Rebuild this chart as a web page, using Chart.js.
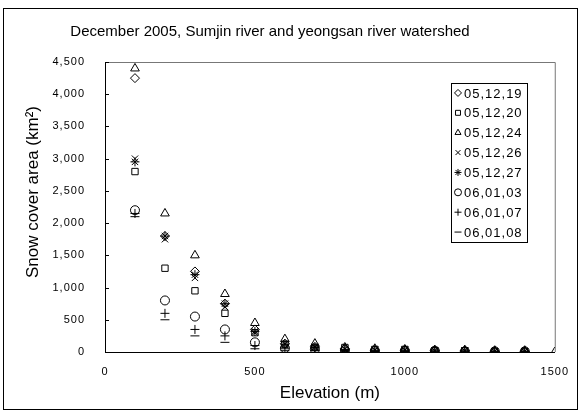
<!DOCTYPE html>
<html>
<head>
<meta charset="utf-8">
<script src="https://cdn.jsdelivr.net/npm/chart.js@4.4.0/dist/chart.umd.min.js"></script>
<style>
  body { margin: 0; background: #fff; }
  #wrap { width: 580px; height: 412px; position: relative; }
</style>
</head>
<body>
<div id="wrap"><canvas id="chart"></canvas></div>
<script>
// elevation bands (m)
const elevations = [100, 200, 300, 400, 500, 600, 700, 800, 900, 1000, 1100, 1200, 1300, 1400, 1500];

const seriesLabels = ["05,12,19", "05,12,20", "05,12,24", "05,12,26", "05,12,27", "06,01,03", "06,01,07", "06,01,08"];
const seriesStyles = ["rectRot", "rect", "triangle", "crossRot", "star", "circle", "cross", "line"];

// snow cover area (km2) per date
const d051219 = [4250, 1800, 1250, 750, 350, 130, 80, 50, 30, 30, 20, 20, 10, 10];
const d051220 = [2800, 1300, 950, 600, 300, 120, 70, 70, 40, 40, 20, 20, 10, 10];
const d051224 = [4400, 2150, 1500, 900, 450, 200, 130, 70, 50, 40, 30, 30, 20, 20, 0];
const d051226 = [3000, 1750, 1150, 700, 300, 130, 80, 50, 30, 30, 20, 20, 10, 10];
const d051227 = [2950, 1800, 1200, 750, 320, 120, 70, 40, 30, 30, 20, 20, 10, 10];
const d060103 = [2200, 800, 550, 350, 150, 60, 40, 30, 20, 20, 20, 10, 10, 10];
const d060107 = [2150, 600, 350, 250, 100, 50, 30, 20, 20, 20, 10, 10, 10, 10];
const d060108 = [2100, 500, 250, 150, 50, 20, 20, 10, 10, 10, 0, 0, 0, 0];

const allSeries = [d051219, d051220, d051224, d051226, d051227, d060103, d060107, d060108];

const yTicks = [0, 500, 1000, 1500, 2000, 2500, 3000, 3500, 4000, 4500];

const datasets = allSeries.map((vals, i) => ({
  label: seriesLabels[i],
  data: vals.map((v, j) => ({ x: elevations[j], y: v })),
  pointStyle: seriesStyles[i],
  pointRadius: seriesStyles[i] === "triangle" ? 5 : 4.5,
  pointBorderColor: "#000",
  pointBackgroundColor: "rgba(255,255,255,0)",
  pointBorderWidth: 1,
  showLine: false
}));

const frameAndText = {
  id: "frameAndText",
  beforeDraw(chart) {
    const ctx = chart.ctx;
    ctx.save();
    ctx.fillStyle = "#fff";
    ctx.fillRect(0, 0, chart.width, chart.height);
    ctx.restore();
    ctx.letterSpacing = "1px";
  },
  beforeDatasetsDraw(chart) {
    const ctx = chart.ctx;
    ctx.letterSpacing = "0px";
    const a = chart.chartArea;
    const y = chart.scales.y;
    ctx.save();
    // top and right of plot box
    ctx.strokeStyle = "#777";
    ctx.lineWidth = 1;
    ctx.beginPath();
    ctx.moveTo(a.left, a.top + 0.5);
    ctx.lineTo(a.right + 0.5, a.top + 0.5);
    ctx.lineTo(a.right + 0.5, a.bottom);
    ctx.stroke();
    // inward tick marks on y axis
    ctx.strokeStyle = "#000";
    ctx.beginPath();
    yTicks.forEach(t => {
      const py = Math.round(y.getPixelForValue(t)) + 0.5;
      ctx.moveTo(a.left, py);
      ctx.lineTo(a.left + 4, py);
    });
    ctx.stroke();
    ctx.restore();
  },
  afterDraw(chart) {
    const ctx = chart.ctx;
    const a = chart.chartArea;
    ctx.save();
    ctx.letterSpacing = "0px";
    // outer frame
    ctx.strokeStyle = "#000";
    ctx.lineWidth = 1;
    ctx.strokeRect(3.5, 8.5, 574, 401);

    ctx.fillStyle = "#000";
    ctx.textBaseline = "middle";
    ctx.textAlign = "center";
    ctx.font = "15px 'Liberation Sans', Arial, sans-serif";
    ctx.fillText("December 2005, Sumjin river and yeongsan river watershed", 270, 32);

    ctx.font = "17px 'Liberation Sans', Arial, sans-serif";
    ctx.fillText("Elevation (m)", (a.left + a.right) / 2, 393);

    ctx.save();
    ctx.translate(33, 192);
    ctx.rotate(-Math.PI / 2);
    ctx.fillText("Snow cover area (km\u00B2)", 0, 0);
    ctx.restore();

    // legend box
    const lx = 451, ly = 83, lw = 76, lh = 159;
    ctx.strokeStyle = "#000";
    ctx.strokeRect(lx + 0.5, ly + 0.5, lw, lh);
    ctx.textAlign = "left";
    ctx.font = "13px 'Liberation Sans', Arial, sans-serif";
    ctx.letterSpacing = "1px";
    const step = lh / seriesLabels.length;
    seriesLabels.forEach((lab, i) => {
      const cy = ly + step * (i + 0.5);
      ctx.strokeStyle = "#000";
      ctx.fillStyle = "rgba(255,255,255,0)";
      ctx.lineWidth = 1;
      Chart.helpers.drawPoint(ctx, { pointStyle: seriesStyles[i], radius: 3.5, rotation: 0, borderWidth: 1 }, lx + 7, cy);
      ctx.fillStyle = "#000";
      ctx.fillText(lab, lx + 13, cy + 1);
    });
    ctx.restore();
  }
};

new Chart(document.getElementById("chart"), {
  type: "scatter",
  data: { datasets: datasets },
  options: {
    responsive: true,
    maintainAspectRatio: false,
    animation: false,
    layout: { padding: { left: 10, right: 25, top: 62, bottom: 0 } },
    plugins: {
      legend: { display: false },
      title: { display: false },
      tooltip: { enabled: false }
    },
    scales: {
      x: {
        type: "linear",
        min: 0,
        max: 1500,
        ticks: {
          stepSize: 500,
          color: "#000",
          padding: 13,
          maxRotation: 0,
          font: { family: "'Liberation Sans', Arial, sans-serif", size: 11 },
          callback: v => String(v)
        },
        grid: { drawOnChartArea: false, drawTicks: false },
        border: { color: "#000", width: 1 },
        afterFit: s => { s.height = 60; }
      },
      y: {
        min: 0,
        max: 4500,
        ticks: {
          stepSize: 500,
          color: "#000",
          padding: 20,
          font: { family: "'Liberation Sans', Arial, sans-serif", size: 11 },
          callback: v => v.toLocaleString("en-US")
        },
        grid: { drawOnChartArea: false, drawTicks: false },
        border: { color: "#000", width: 1 },
        afterFit: s => { s.width = 95; }
      }
    }
  },
  plugins: [frameAndText]
});
</script>
</body>
</html>
